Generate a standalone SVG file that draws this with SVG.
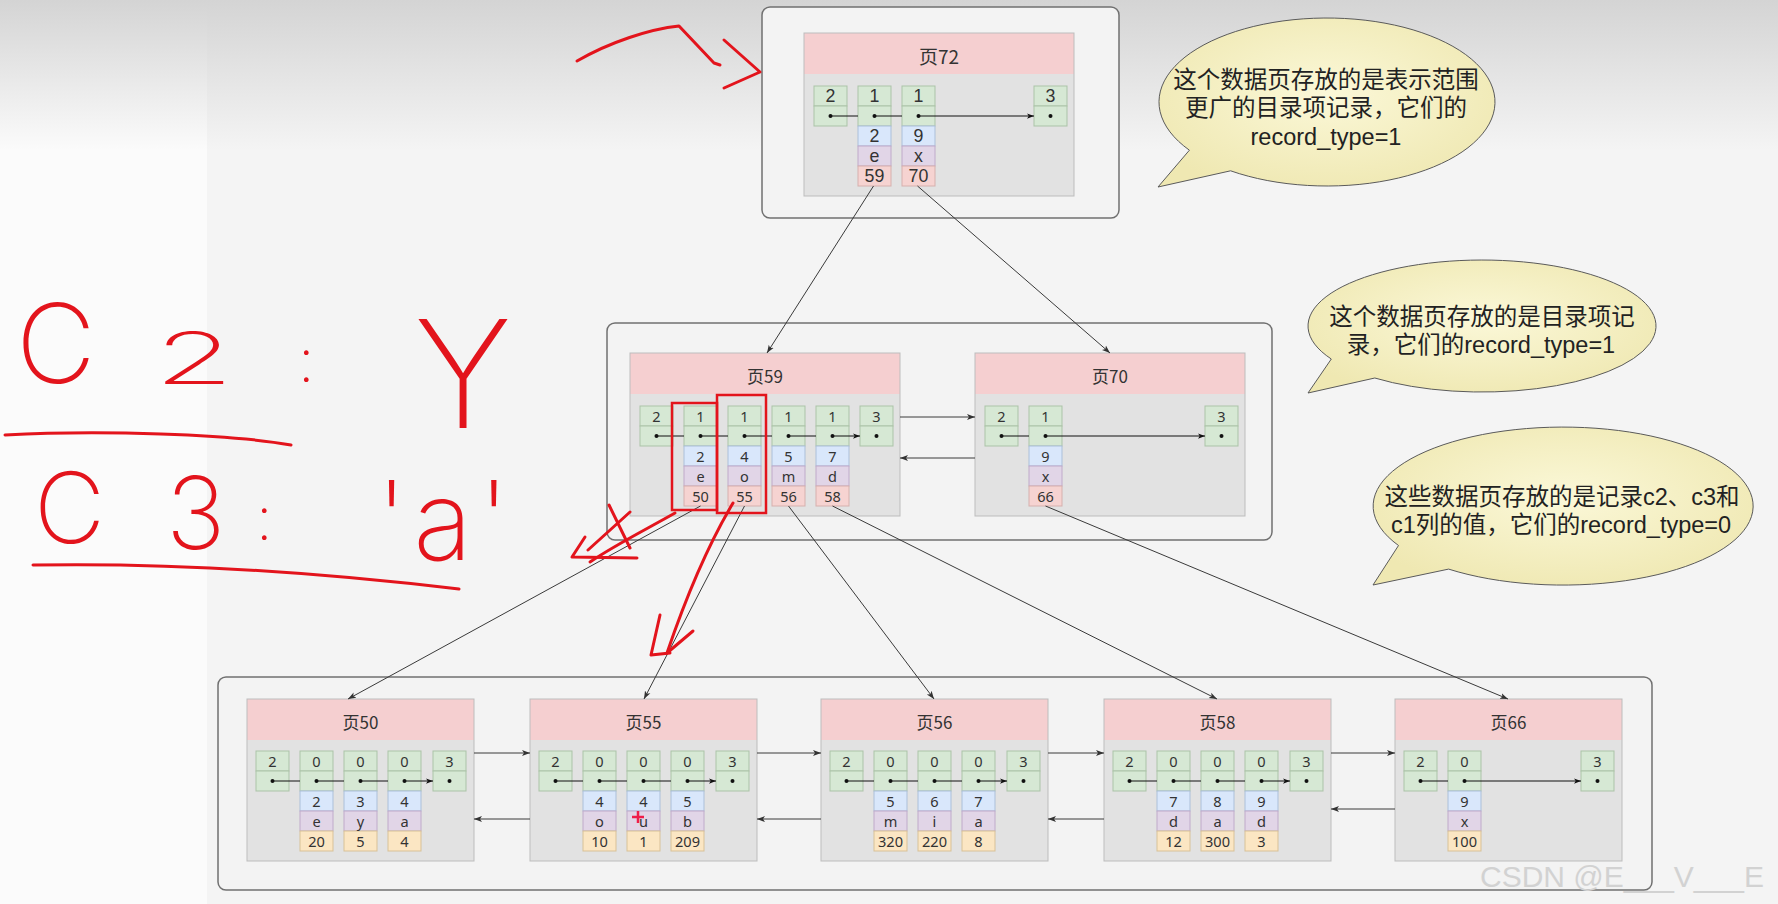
<svg xmlns="http://www.w3.org/2000/svg" width="1778" height="904" viewBox="0 0 1778 904">
<defs>
<linearGradient id="topg" x1="0" y1="0" x2="0" y2="1">
<stop offset="0" stop-color="#d4d4d4"/>
<stop offset="1" stop-color="#d4d4d4" stop-opacity="0"/>
</linearGradient>
<radialGradient id="bub" cx="0.5" cy="0.45" r="0.6">
<stop offset="0" stop-color="#fbf8d8"/>
<stop offset="1" stop-color="#efe8b2"/>
</radialGradient>
<marker id="ah" viewBox="0 0 8 8" refX="8" refY="4" markerWidth="7" markerHeight="7" markerUnits="userSpaceOnUse" orient="auto">
<path d="M0,1 L8,4 L0,7 L2,4 Z" fill="#111"/>
</marker>
<marker id="ah2" viewBox="0 0 8 8" refX="8" refY="4" markerWidth="8" markerHeight="8" markerUnits="userSpaceOnUse" orient="auto">
<path d="M0,1 L8,4 L0,7 L2,4 Z" fill="#333"/>
</marker>
</defs>
<style>
.ct{fill:#f3f3f3;stroke:#707070;stroke-width:1.5}
.ph{fill:#f5cfd0}
.pb{fill:#e2e2e2}
.po{fill:none;stroke:#bdbdbd;stroke-width:1}
.g{fill:#d6e8d4;stroke:#abc3a8;stroke-width:1}
.b{fill:#d9e7fb;stroke:#abbfd9;stroke-width:1}
.p{fill:#e1d5e7;stroke:#bfaaca;stroke-width:1}
.r{fill:#f6d3d1;stroke:#d6b0ad;stroke-width:1}
.y{fill:#fbe6c3;stroke:#d8c197;stroke-width:1}
.t,.t3{font-family:"Noto Sans","Open Sans",sans-serif;fill:#333;text-anchor:middle;dominant-baseline:central}
.t{font-size:14.5px}
.t3{font-size:14.6px}
.t2{font-family:"Liberation Sans",Arial,sans-serif;font-size:17.8px;fill:#333;text-anchor:middle;dominant-baseline:central}
.h,.h2{font-family:"Noto Sans CJK SC","Noto Sans",sans-serif;fill:#333;text-anchor:middle;dominant-baseline:central}
.h{font-size:17px}
.h2{font-size:19px}
.ptr{stroke:#111;stroke-width:1;fill:none;marker-end:url(#ah)}
.dot{fill:#111}
.cn{stroke:#3a3a3a;stroke-width:1;fill:none;marker-end:url(#ah2)}
.bbl{fill:url(#bub);stroke:#5a5a5a;stroke-width:1}
.bt{font-family:"Liberation Sans","Noto Sans CJK SC",sans-serif;font-size:23.5px;fill:#222;text-anchor:middle;dominant-baseline:central}
.red{stroke:#e3141c;stroke-width:3;fill:none;stroke-linecap:round;stroke-linejoin:round}
.rbox{stroke:#e3141c;stroke-width:2.5;fill:none}
.hw{font-family:Inter,"Liberation Sans",sans-serif;font-weight:200;fill:#e3141c}
.wm{font-family:"Liberation Sans",Arial,sans-serif;font-size:30px;fill:#d2d2d2}
</style>

<!-- background -->
<rect x="0" y="0" width="1778" height="904" fill="#f4f4f4"/>
<rect x="0" y="0" width="207" height="904" fill="#fbfbfb"/>
<rect x="0" y="0" width="1778" height="150" fill="url(#topg)"/>

<!-- containers -->
<g id="containers">
<rect class="ct" x="762" y="7" width="357" height="211" rx="8"/>
<rect class="ct" x="607" y="323" width="665" height="217" rx="8"/>
<rect class="ct" x="218" y="677" width="1434" height="213" rx="8"/>
</g>

<!-- page 72 -->
<g id="page72">
<rect class="ph" x="804" y="33" width="270" height="41"/>
<rect class="pb" x="804" y="74" width="270" height="122"/>
<rect class="po" x="804" y="33" width="270" height="163"/>
<text class="h2" x="939" y="55">页72</text>
<g transform="translate(814,86)"><rect class="g" width="33" height="20"/><rect class="g" y="20" width="33" height="20"/><text class="t2" x="16.5" y="10">2</text></g>
<g transform="translate(858,86)"><rect class="g" width="33" height="20"/><rect class="g" y="20" width="33" height="20"/><rect class="b" y="40" width="33" height="20"/><rect class="p" y="60" width="33" height="20"/><rect class="r" y="80" width="33" height="20"/><text class="t2" x="16.5" y="10">1</text><text class="t2" x="16.5" y="50">2</text><text class="t2" x="16.5" y="70">e</text><text class="t2" x="16.5" y="90">59</text></g>
<g transform="translate(902,86)"><rect class="g" width="33" height="20"/><rect class="g" y="20" width="33" height="20"/><rect class="b" y="40" width="33" height="20"/><rect class="p" y="60" width="33" height="20"/><rect class="r" y="80" width="33" height="20"/><text class="t2" x="16.5" y="10">1</text><text class="t2" x="16.5" y="50">9</text><text class="t2" x="16.5" y="70">x</text><text class="t2" x="16.5" y="90">70</text></g>
<g transform="translate(1034,86)"><rect class="g" width="33" height="20"/><rect class="g" y="20" width="33" height="20"/><text class="t2" x="16.5" y="10">3</text></g>
<path class="ptr" d="M830.5,116 H858 M874.5,116 H902 M918.5,116 H1034"/>
<circle class="dot" cx="830.5" cy="116" r="2"/><circle class="dot" cx="874.5" cy="116" r="2"/><circle class="dot" cx="918.5" cy="116" r="2"/><circle class="dot" cx="1050.5" cy="116" r="2"/>
</g>

<!-- page 59 -->
<g id="page59">
<rect class="ph" x="630" y="353" width="270" height="41"/>
<rect class="pb" x="630" y="394" width="270" height="122"/>
<rect class="po" x="630" y="353" width="270" height="163"/>
<text class="h" x="765" y="375">页59</text>
<g transform="translate(640,406)"><rect class="g" width="33" height="20"/><rect class="g" y="20" width="33" height="20"/><text class="t" x="16.5" y="10">2</text></g>
<g transform="translate(684,406)"><rect class="g" width="33" height="20"/><rect class="g" y="20" width="33" height="20"/><rect class="b" y="40" width="33" height="20"/><rect class="p" y="60" width="33" height="20"/><rect class="r" y="80" width="33" height="20"/><text class="t" x="16.5" y="10">1</text><text class="t" x="16.5" y="50">2</text><text class="t" x="16.5" y="70">e</text><text class="t" x="16.5" y="90">50</text></g>
<g transform="translate(728,406)"><rect class="g" width="33" height="20"/><rect class="g" y="20" width="33" height="20"/><rect class="b" y="40" width="33" height="20"/><rect class="p" y="60" width="33" height="20"/><rect class="r" y="80" width="33" height="20"/><text class="t" x="16.5" y="10">1</text><text class="t" x="16.5" y="50">4</text><text class="t" x="16.5" y="70">o</text><text class="t" x="16.5" y="90">55</text></g>
<g transform="translate(772,406)"><rect class="g" width="33" height="20"/><rect class="g" y="20" width="33" height="20"/><rect class="b" y="40" width="33" height="20"/><rect class="p" y="60" width="33" height="20"/><rect class="r" y="80" width="33" height="20"/><text class="t" x="16.5" y="10">1</text><text class="t" x="16.5" y="50">5</text><text class="t" x="16.5" y="70">m</text><text class="t" x="16.5" y="90">56</text></g>
<g transform="translate(816,406)"><rect class="g" width="33" height="20"/><rect class="g" y="20" width="33" height="20"/><rect class="b" y="40" width="33" height="20"/><rect class="p" y="60" width="33" height="20"/><rect class="r" y="80" width="33" height="20"/><text class="t" x="16.5" y="10">1</text><text class="t" x="16.5" y="50">7</text><text class="t" x="16.5" y="70">d</text><text class="t" x="16.5" y="90">58</text></g>
<g transform="translate(860,406)"><rect class="g" width="33" height="20"/><rect class="g" y="20" width="33" height="20"/><text class="t" x="16.5" y="10">3</text></g>
<path class="ptr" d="M656.5,436 H684 M700.5,436 H728 M744.5,436 H772 M788.5,436 H816 M832.5,436 H860"/>
<circle class="dot" cx="656.5" cy="436" r="2"/><circle class="dot" cx="700.5" cy="436" r="2"/><circle class="dot" cx="744.5" cy="436" r="2"/><circle class="dot" cx="788.5" cy="436" r="2"/><circle class="dot" cx="832.5" cy="436" r="2"/><circle class="dot" cx="876.5" cy="436" r="2"/>
</g>

<!-- page 70 -->
<g id="page70">
<rect class="ph" x="975" y="353" width="270" height="41"/>
<rect class="pb" x="975" y="394" width="270" height="122"/>
<rect class="po" x="975" y="353" width="270" height="163"/>
<text class="h" x="1110" y="375">页70</text>
<g transform="translate(985,406)"><rect class="g" width="33" height="20"/><rect class="g" y="20" width="33" height="20"/><text class="t" x="16.5" y="10">2</text></g>
<g transform="translate(1029,406)"><rect class="g" width="33" height="20"/><rect class="g" y="20" width="33" height="20"/><rect class="b" y="40" width="33" height="20"/><rect class="p" y="60" width="33" height="20"/><rect class="r" y="80" width="33" height="20"/><text class="t" x="16.5" y="10">1</text><text class="t" x="16.5" y="50">9</text><text class="t" x="16.5" y="70">x</text><text class="t" x="16.5" y="90">66</text></g>
<g transform="translate(1205,406)"><rect class="g" width="33" height="20"/><rect class="g" y="20" width="33" height="20"/><text class="t" x="16.5" y="10">3</text></g>
<path class="ptr" d="M1001.5,436 H1029 M1045.5,436 H1205"/>
<circle class="dot" cx="1001.5" cy="436" r="2"/><circle class="dot" cx="1045.5" cy="436" r="2"/><circle class="dot" cx="1221.5" cy="436" r="2"/>
</g>

<!-- page 50 -->
<g id="page50">
<rect class="ph" x="247" y="699" width="227" height="41"/>
<rect class="pb" x="247" y="740" width="227" height="121"/>
<rect class="po" x="247" y="699" width="227" height="162"/>
<text class="h" x="360.5" y="721">页50</text>
<g transform="translate(256,751)"><rect class="g" width="33" height="20"/><rect class="g" y="20" width="33" height="20"/><text class="t3" x="16.5" y="10">2</text></g>
<g transform="translate(300,751)"><rect class="g" width="33" height="20"/><rect class="g" y="20" width="33" height="20"/><rect class="b" y="40" width="33" height="20"/><rect class="p" y="60" width="33" height="20"/><rect class="y" y="80" width="33" height="20"/><text class="t3" x="16.5" y="10">0</text><text class="t3" x="16.5" y="50">2</text><text class="t3" x="16.5" y="70">e</text><text class="t3" x="16.5" y="90">20</text></g>
<g transform="translate(344,751)"><rect class="g" width="33" height="20"/><rect class="g" y="20" width="33" height="20"/><rect class="b" y="40" width="33" height="20"/><rect class="p" y="60" width="33" height="20"/><rect class="y" y="80" width="33" height="20"/><text class="t3" x="16.5" y="10">0</text><text class="t3" x="16.5" y="50">3</text><text class="t3" x="16.5" y="70">y</text><text class="t3" x="16.5" y="90">5</text></g>
<g transform="translate(388,751)"><rect class="g" width="33" height="20"/><rect class="g" y="20" width="33" height="20"/><rect class="b" y="40" width="33" height="20"/><rect class="p" y="60" width="33" height="20"/><rect class="y" y="80" width="33" height="20"/><text class="t3" x="16.5" y="10">0</text><text class="t3" x="16.5" y="50">4</text><text class="t3" x="16.5" y="70">a</text><text class="t3" x="16.5" y="90">4</text></g>
<g transform="translate(433,751)"><rect class="g" width="33" height="20"/><rect class="g" y="20" width="33" height="20"/><text class="t3" x="16.5" y="10">3</text></g>
<path class="ptr" d="M272.5,781 H300 M316.5,781 H344 M360.5,781 H388 M404.5,781 H433"/>
<circle class="dot" cx="272.5" cy="781" r="2"/><circle class="dot" cx="316.5" cy="781" r="2"/><circle class="dot" cx="360.5" cy="781" r="2"/><circle class="dot" cx="404.5" cy="781" r="2"/><circle class="dot" cx="449.5" cy="781" r="2"/>
</g>

<!-- page 55 -->
<g id="page55">
<rect class="ph" x="530" y="699" width="227" height="41"/>
<rect class="pb" x="530" y="740" width="227" height="121"/>
<rect class="po" x="530" y="699" width="227" height="162"/>
<text class="h" x="643.5" y="721">页55</text>
<g transform="translate(539,751)"><rect class="g" width="33" height="20"/><rect class="g" y="20" width="33" height="20"/><text class="t3" x="16.5" y="10">2</text></g>
<g transform="translate(583,751)"><rect class="g" width="33" height="20"/><rect class="g" y="20" width="33" height="20"/><rect class="b" y="40" width="33" height="20"/><rect class="p" y="60" width="33" height="20"/><rect class="y" y="80" width="33" height="20"/><text class="t3" x="16.5" y="10">0</text><text class="t3" x="16.5" y="50">4</text><text class="t3" x="16.5" y="70">o</text><text class="t3" x="16.5" y="90">10</text></g>
<g transform="translate(627,751)"><rect class="g" width="33" height="20"/><rect class="g" y="20" width="33" height="20"/><rect class="b" y="40" width="33" height="20"/><rect class="p" y="60" width="33" height="20"/><rect class="y" y="80" width="33" height="20"/><text class="t3" x="16.5" y="10">0</text><text class="t3" x="16.5" y="50">4</text><text class="t3" x="16.5" y="70">u</text><text class="t3" x="16.5" y="90">1</text></g>
<g transform="translate(671,751)"><rect class="g" width="33" height="20"/><rect class="g" y="20" width="33" height="20"/><rect class="b" y="40" width="33" height="20"/><rect class="p" y="60" width="33" height="20"/><rect class="y" y="80" width="33" height="20"/><text class="t3" x="16.5" y="10">0</text><text class="t3" x="16.5" y="50">5</text><text class="t3" x="16.5" y="70">b</text><text class="t3" x="16.5" y="90">209</text></g>
<g transform="translate(716,751)"><rect class="g" width="33" height="20"/><rect class="g" y="20" width="33" height="20"/><text class="t3" x="16.5" y="10">3</text></g>
<path class="ptr" d="M555.5,781 H583 M599.5,781 H627 M643.5,781 H671 M687.5,781 H716"/>
<circle class="dot" cx="555.5" cy="781" r="2"/><circle class="dot" cx="599.5" cy="781" r="2"/><circle class="dot" cx="643.5" cy="781" r="2"/><circle class="dot" cx="687.5" cy="781" r="2"/><circle class="dot" cx="732.5" cy="781" r="2"/>
</g>

<!-- page 56 -->
<g id="page56">
<rect class="ph" x="821" y="699" width="227" height="41"/>
<rect class="pb" x="821" y="740" width="227" height="121"/>
<rect class="po" x="821" y="699" width="227" height="162"/>
<text class="h" x="934.5" y="721">页56</text>
<g transform="translate(830,751)"><rect class="g" width="33" height="20"/><rect class="g" y="20" width="33" height="20"/><text class="t3" x="16.5" y="10">2</text></g>
<g transform="translate(874,751)"><rect class="g" width="33" height="20"/><rect class="g" y="20" width="33" height="20"/><rect class="b" y="40" width="33" height="20"/><rect class="p" y="60" width="33" height="20"/><rect class="y" y="80" width="33" height="20"/><text class="t3" x="16.5" y="10">0</text><text class="t3" x="16.5" y="50">5</text><text class="t3" x="16.5" y="70">m</text><text class="t3" x="16.5" y="90">320</text></g>
<g transform="translate(918,751)"><rect class="g" width="33" height="20"/><rect class="g" y="20" width="33" height="20"/><rect class="b" y="40" width="33" height="20"/><rect class="p" y="60" width="33" height="20"/><rect class="y" y="80" width="33" height="20"/><text class="t3" x="16.5" y="10">0</text><text class="t3" x="16.5" y="50">6</text><text class="t3" x="16.5" y="70">i</text><text class="t3" x="16.5" y="90">220</text></g>
<g transform="translate(962,751)"><rect class="g" width="33" height="20"/><rect class="g" y="20" width="33" height="20"/><rect class="b" y="40" width="33" height="20"/><rect class="p" y="60" width="33" height="20"/><rect class="y" y="80" width="33" height="20"/><text class="t3" x="16.5" y="10">0</text><text class="t3" x="16.5" y="50">7</text><text class="t3" x="16.5" y="70">a</text><text class="t3" x="16.5" y="90">8</text></g>
<g transform="translate(1007,751)"><rect class="g" width="33" height="20"/><rect class="g" y="20" width="33" height="20"/><text class="t3" x="16.5" y="10">3</text></g>
<path class="ptr" d="M846.5,781 H874 M890.5,781 H918 M934.5,781 H962 M978.5,781 H1007"/>
<circle class="dot" cx="846.5" cy="781" r="2"/><circle class="dot" cx="890.5" cy="781" r="2"/><circle class="dot" cx="934.5" cy="781" r="2"/><circle class="dot" cx="978.5" cy="781" r="2"/><circle class="dot" cx="1023.5" cy="781" r="2"/>
</g>

<!-- page 58 -->
<g id="page58">
<rect class="ph" x="1104" y="699" width="227" height="41"/>
<rect class="pb" x="1104" y="740" width="227" height="121"/>
<rect class="po" x="1104" y="699" width="227" height="162"/>
<text class="h" x="1217.5" y="721">页58</text>
<g transform="translate(1113,751)"><rect class="g" width="33" height="20"/><rect class="g" y="20" width="33" height="20"/><text class="t3" x="16.5" y="10">2</text></g>
<g transform="translate(1157,751)"><rect class="g" width="33" height="20"/><rect class="g" y="20" width="33" height="20"/><rect class="b" y="40" width="33" height="20"/><rect class="p" y="60" width="33" height="20"/><rect class="y" y="80" width="33" height="20"/><text class="t3" x="16.5" y="10">0</text><text class="t3" x="16.5" y="50">7</text><text class="t3" x="16.5" y="70">d</text><text class="t3" x="16.5" y="90">12</text></g>
<g transform="translate(1201,751)"><rect class="g" width="33" height="20"/><rect class="g" y="20" width="33" height="20"/><rect class="b" y="40" width="33" height="20"/><rect class="p" y="60" width="33" height="20"/><rect class="y" y="80" width="33" height="20"/><text class="t3" x="16.5" y="10">0</text><text class="t3" x="16.5" y="50">8</text><text class="t3" x="16.5" y="70">a</text><text class="t3" x="16.5" y="90">300</text></g>
<g transform="translate(1245,751)"><rect class="g" width="33" height="20"/><rect class="g" y="20" width="33" height="20"/><rect class="b" y="40" width="33" height="20"/><rect class="p" y="60" width="33" height="20"/><rect class="y" y="80" width="33" height="20"/><text class="t3" x="16.5" y="10">0</text><text class="t3" x="16.5" y="50">9</text><text class="t3" x="16.5" y="70">d</text><text class="t3" x="16.5" y="90">3</text></g>
<g transform="translate(1290,751)"><rect class="g" width="33" height="20"/><rect class="g" y="20" width="33" height="20"/><text class="t3" x="16.5" y="10">3</text></g>
<path class="ptr" d="M1129.5,781 H1157 M1173.5,781 H1201 M1217.5,781 H1245 M1261.5,781 H1290"/>
<circle class="dot" cx="1129.5" cy="781" r="2"/><circle class="dot" cx="1173.5" cy="781" r="2"/><circle class="dot" cx="1217.5" cy="781" r="2"/><circle class="dot" cx="1261.5" cy="781" r="2"/><circle class="dot" cx="1306.5" cy="781" r="2"/>
</g>

<!-- page 66 -->
<g id="page66">
<rect class="ph" x="1395" y="699" width="227" height="41"/>
<rect class="pb" x="1395" y="740" width="227" height="121"/>
<rect class="po" x="1395" y="699" width="227" height="162"/>
<text class="h" x="1508.5" y="721">页66</text>
<g transform="translate(1404,751)"><rect class="g" width="33" height="20"/><rect class="g" y="20" width="33" height="20"/><text class="t3" x="16.5" y="10">2</text></g>
<g transform="translate(1448,751)"><rect class="g" width="33" height="20"/><rect class="g" y="20" width="33" height="20"/><rect class="b" y="40" width="33" height="20"/><rect class="p" y="60" width="33" height="20"/><rect class="y" y="80" width="33" height="20"/><text class="t3" x="16.5" y="10">0</text><text class="t3" x="16.5" y="50">9</text><text class="t3" x="16.5" y="70">x</text><text class="t3" x="16.5" y="90">100</text></g>
<g transform="translate(1581,751)"><rect class="g" width="33" height="20"/><rect class="g" y="20" width="33" height="20"/><text class="t3" x="16.5" y="10">3</text></g>
<path class="ptr" d="M1420.5,781 H1448 M1464.5,781 H1581"/>
<circle class="dot" cx="1420.5" cy="781" r="2"/><circle class="dot" cx="1464.5" cy="781" r="2"/><circle class="dot" cx="1597.5" cy="781" r="2"/>
</g>

<!-- connectors -->
<g id="connectors">
<line class="cn" x1="873.5" y1="186" x2="767" y2="353"/>
<line class="cn" x1="917.5" y1="186" x2="1110" y2="353"/>
<line class="cn" x1="900" y1="417" x2="975" y2="417"/>
<line class="cn" x1="975" y1="458" x2="900" y2="458"/>
<line class="cn" x1="700.5" y1="506" x2="348" y2="699"/>
<line class="cn" x1="744.5" y1="506" x2="644" y2="699"/>
<line class="cn" x1="788.5" y1="506" x2="934" y2="699"/>
<line class="cn" x1="832.5" y1="506" x2="1217" y2="699"/>
<line class="cn" x1="1045.5" y1="506" x2="1508" y2="699"/>
<line class="cn" x1="474" y1="753" x2="530" y2="753"/>
<line class="cn" x1="530" y1="819" x2="474" y2="819"/>
<line class="cn" x1="757" y1="753" x2="821" y2="753"/>
<line class="cn" x1="821" y1="819" x2="757" y2="819"/>
<line class="cn" x1="1048" y1="753" x2="1104" y2="753"/>
<line class="cn" x1="1104" y1="819" x2="1048" y2="819"/>
<line class="cn" x1="1331" y1="753" x2="1395" y2="753"/>
<line class="cn" x1="1395" y1="809" x2="1331" y2="809"/>
</g>

<!-- callouts -->
<g id="callout1">
<path class="bbl" d="M1189.4,150.2 L1158,187 L1230.6,170.8 A168 84 0 1 0 1189.4,150.2 Z"/>
<text class="bt" x="1326" y="80">这个数据页存放的是表示范围</text>
<text class="bt" x="1326" y="108">更广的目录项记录，它们的</text>
<text class="bt" x="1326" y="137">record_type=1</text>
</g>
<g id="callout2">
<path class="bbl" d="M1331.3,359 L1308,393 L1374.8,378 A174 66 0 1 0 1331.3,359 Z"/>
<text class="bt" x="1482" y="317">这个数据页存放的是目录项记</text>
<text class="bt" x="1481" y="345">录，它们的record_type=1</text>
</g>
<g id="callout3">
<path class="bbl" d="M1398.5,545.5 L1373,585 L1448.6,569.1 A190 79 0 1 0 1398.5,545.5 Z"/>
<text class="bt" x="1562" y="497">这些数据页存放的是记录c2、c3和</text>
<text class="bt" x="1561" y="525">c1列的值，它们的record_type=0</text>
</g>

<!-- watermark -->
<text class="wm" x="1480" y="887">CSDN @E___V___E</text>

<!-- red hand annotations -->
<g id="annotations">
<rect class="rbox" x="672" y="403" width="45" height="107"/>
<rect class="rbox" x="717" y="395" width="49" height="118"/>
<path class="red" d="M577,61 C610,42 650,29 679,26 L714,63 L720,65"/>
<path class="red" d="M724,40 L760,72 L724,88"/>
<path class="red" d="M675,513 C645,530 615,545 590,562"/>
<path class="red" d="M609,505 L630,548 M630,512 L588,550"/>
<path class="red" d="M585,537 L572,557 L637,558"/>
<path class="red" d="M733,503 C705,550 685,600 667,653"/>
<path class="red" d="M660,615 L651,655 L670,653 M693,631 L667,653"/>
<path class="red" d="M5,435 C100,430 230,434 291,445"/>
<path class="red" d="M33,565 C150,563 300,570 459,589"/>
<path d="M632,817 H644 M638,811 V823" stroke="#ef1d4a" stroke-width="2.5" fill="none"/>
<text class="hw"><tspan x="16" y="383" font-size="110">C</tspan><tspan x="298" y="382" font-size="60">:</tspan><tspan x="414" y="428" font-size="150">Y</tspan></text>
<text class="hw" font-size="72" transform="translate(154,384) scale(1.8,1)">2</text>
<text class="hw"><tspan x="34" y="543" font-size="98">C</tspan><tspan x="166" y="549" font-size="100">3</tspan><tspan x="256" y="540" font-size="60">:</tspan><tspan x="376" y="560" font-size="110" letter-spacing="6">'a'</tspan></text>
</g>
</svg>
